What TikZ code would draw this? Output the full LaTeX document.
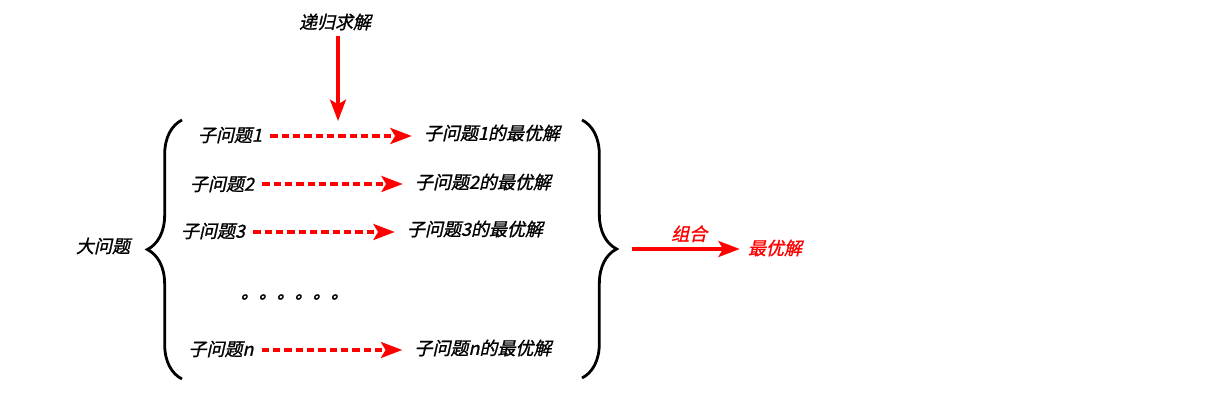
\documentclass[tikz,border=0pt]{standalone}
\usepackage{fontspec}
\newfontfamily\cjk[FakeSlant=0.22,FakeBold=1.2]{Noto Sans CJK SC}
\usetikzlibrary{arrows.meta,decorations.pathreplacing}
\tikzset{
  lbl/.style={font=\cjk\fontsize{13.5pt}{15pt}\selectfont, text=black, inner sep=1pt},
  redlbl/.style={lbl, text=red},
  tip/.style={-{Stealth[length=16pt,width=12pt,inset=3.5pt]}},
  dasharrow/.style={draw=red, line width=2.4pt, dash pattern=on 5.5pt off 3pt, tip, shorten <=5pt, shorten >=8pt},
  solidarrow/.style={draw=red, line width=2.4pt, tip},
  bracestyle/.style={draw=black, line width=2.1pt, decorate, decoration={brace, amplitude=26pt}}
}
\begin{document}
\begin{tikzpicture}[x=0.75pt,y=-0.75pt]
\useasboundingbox (0,0) rectangle (1229,402);
% top
\node[lbl] (rec) at (335,22) {递归求解};
\coordinate (rectip) at (338,121);
\draw[solidarrow, shorten <=3pt] (rec.south -| rectip) -- (rectip);
% left side
\node[lbl] (big) at (103,246) {大问题};
\coordinate (lbB) at (182,379);
\coordinate (lbT) at (182,120);
\draw[bracestyle] (lbB) -- (lbT);
% rows
\node[lbl] (s1) at (230,135) {子问题1};
\node[lbl] (t1) at (492,133) {子问题1的最优解};
\draw[dasharrow] (s1.east |- 0,136) -- (t1.west |- 0,136);
\node[lbl] (s2) at (222,184) {子问题2};
\node[lbl] (t2) at (483,182) {子问题2的最优解};
\draw[dasharrow] (s2.east |- 0,184) -- (t2.west |- 0,184);
\node[lbl] (s3) at (213,231) {子问题3};
\node[lbl] (t3) at (475,229) {子问题3的最优解};
\draw[dasharrow] (s3.east |- 0,232) -- (t3.west |- 0,232);
\node[lbl] (dots) at (295,297) {。。。。。。};
\node[lbl] (sn) at (221,349) {子问题n};
\node[lbl] (tn) at (483,348) {子问题n的最优解};
\draw[dasharrow] (sn.east |- 0,350) -- (tn.west |- 0,350);
% right side
\coordinate (rbT) at (582,120);
\coordinate (rbB) at (582,378);
\draw[bracestyle] (rbT) -- (rbB);
\node[redlbl] (best) at (775,248) {最优解};
\coordinate (combS) at (632,249);
\draw[solidarrow, shorten >=5pt] (combS) -- (best.west |- combS) node[redlbl, midway, above=3pt] (comb) {组合};
\end{tikzpicture}
\end{document}
